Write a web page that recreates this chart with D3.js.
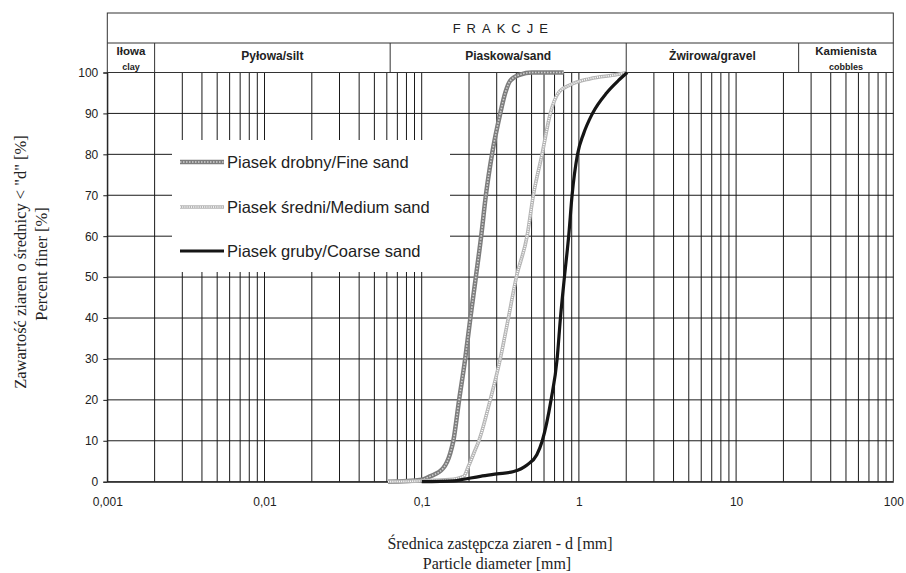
<!DOCTYPE html>
<html>
<head>
<meta charset="utf-8">
<script src="https://cdn.jsdelivr.net/npm/d3@7"></script>
<style>
  body { margin: 0; background: #fff; }
  text { font-family: "Liberation Sans", Arial, sans-serif; fill: #222; }
  .serif { font-family: "Liberation Serif", "Times New Roman", serif; }
</style>
</head>
<body>
<div id="chart"></div>
<script>
// grain size distribution curves, [diameter mm, percent finer]
var fineSand = [[0.061,0],[0.1,0.5],[0.113,1.3],[0.137,3.3],[0.152,7],[0.159,10],[0.173,20],[0.189,30],
  [0.204,40],[0.221,50],[0.239,60],[0.256,70],[0.28,80],[0.316,90],[0.34,95],[0.366,98],[0.424,99.5],[0.5,100],[0.8,100]];
var mediumSand = [[0.061,0],[0.1,0.2],[0.15,0.5],[0.185,1.3],[0.198,3.7],[0.219,7.8],[0.231,10],[0.273,20],
  [0.316,30],[0.356,40],[0.4,50],[0.468,60],[0.513,70],[0.583,80],[0.658,90],[0.74,95],[0.883,97],[1.18,98.5],[1.75,99.5],[2.03,100]];
var coarseSand = [[0.1,0],[0.16,0.2],[0.185,0.6],[0.236,1.3],[0.301,1.9],[0.385,2.5],[0.468,4.1],[0.54,6.6],
  [0.585,10],[0.665,20],[0.727,30],[0.763,40],[0.809,50],[0.861,60],[0.905,70],[0.98,80],[1.07,85],[1.22,90],[1.5,95],[1.78,98],[2.03,100]];

var seriesNames = ["Piasek drobny/Fine sand", "Piasek średni/Medium sand", "Piasek gruby/Coarse sand"];
var xTickValues = [0.001, 0.01, 0.1, 1, 10, 100];
var xTickLabels = ["0,001", "0,01", "0,1", "1", "10", "100"];
var yTickValues = [0, 10, 20, 30, 40, 50, 60, 70, 80, 90, 100];

// soil fractions in the header band
var fractionBounds = [0.001, 0.002, 0.063, 2, 25, 100];
var fractionNames = ["Iłowa", "Pyłowa/silt", "Piaskowa/sand", "Żwirowa/gravel", "Kamienista"];
var fractionSub = ["clay", "", "", "", "cobbles"];

// set the dimensions and margins of the graph
var margin = {top: 72.5, right: 12.7, bottom: 91.3, left: 107.3},
  width = 906 - margin.left - margin.right,
  height = 573 - margin.top - margin.bottom;

var svg = d3.select("#chart")
  .append("svg")
    .attr("width", 906)
    .attr("height", 573)
  .append("g")
    .attr("transform", "translate(" + margin.left + "," + margin.top + ")");

var x = d3.scaleLog().domain([0.001, 100]).range([0, width]);
var y = d3.scaleLinear().domain([0, 100]).range([height, 0]);

// grid: every 1..9 multiple of each decade
var gridX = [];
for (var e = -3; e <= 1; e++) {
  for (var k = 1; k <= 9; k++) gridX.push(k * Math.pow(10, e));
}
gridX.push(100);

svg.append("g").selectAll("line.v")
  .data(gridX).enter().append("line")
    .attr("x1", function (d) { return x(d); })
    .attr("x2", function (d) { return x(d); })
    .attr("y1", 0).attr("y2", height)
    .style("stroke", "#1a1a1a").style("stroke-width", 1);

svg.append("g").selectAll("line.h")
  .data(yTickValues).enter().append("line")
    .attr("x1", 0).attr("x2", width)
    .attr("y1", function (d) { return y(d); })
    .attr("y2", function (d) { return y(d); })
    .style("stroke", "#1a1a1a").style("stroke-width", 1);

// Y axis
var yAxis = svg.append("g")
  .call(d3.axisLeft(y).tickValues(yTickValues).tickSize(4).tickPadding(5));
yAxis.select(".domain").style("stroke", "#1a1a1a");
yAxis.selectAll("line").style("stroke", "#1a1a1a");
yAxis.selectAll("text").style("font-size", "12px").style("fill", "#222");

// X axis, labels only
var xAxis = svg.append("g")
  .attr("transform", "translate(0," + height + ")")
  .call(d3.axisBottom(x).tickValues(xTickValues).tickSize(0).tickPadding(16)
    .tickFormat(function (d, i) { return xTickLabels[i]; }));
xAxis.select(".domain").style("stroke", "#1a1a1a");
xAxis.selectAll("text").style("font-size", "12px").style("fill", "#222");

// header band
var head = svg.append("g").attr("transform", "translate(0,-59.5)");
head.append("rect")
  .attr("width", width).attr("height", 59.5)
  .style("fill", "none").style("stroke", "#333");
head.append("line")
  .attr("x1", 0).attr("x2", width).attr("y1", 30).attr("y2", 30)
  .style("stroke", "#333");
head.append("text")
  .attr("x", width / 2 + 3).attr("y", 20)
  .attr("text-anchor", "middle")
  .style("font-size", "13px").style("letter-spacing", "6px")
  .text("FRAKCJE");
head.selectAll("line.sep")
  .data(fractionBounds.slice(1, -1)).enter().append("line")
    .attr("x1", function (d) { return x(d); })
    .attr("x2", function (d) { return x(d); })
    .attr("y1", 30).attr("y2", 59.5)
    .style("stroke", "#333");
fractionNames.forEach(function (name, i) {
  var cx = (x(fractionBounds[i]) + x(fractionBounds[i + 1])) / 2;
  var small = fractionSub[i] !== "";
  head.append("text")
    .attr("x", cx).attr("y", small ? 42 : 47)
    .attr("text-anchor", "middle")
    .style("font-weight", "bold").style("font-size", small ? "11.5px" : "12px")
    .text(name);
  if (small) {
    head.append("text")
      .attr("x", cx).attr("y", 57)
      .attr("text-anchor", "middle")
      .style("font-weight", "bold").style("font-size", "9px")
      .text(fractionSub[i]);
  }
});

// curve styles
var line = d3.line()
  .x(function (d) { return x(d[0]); })
  .y(function (d) { return y(d[1]); })
  .curve(d3.curveMonotoneX);

var styles = [
  [{stroke: "#7d7d7d", w: 4.5}, {stroke: "#cfcfcf", w: 1.6, dash: "1.5,1.5"}],
  [{stroke: "#b4b4b4", w: 3.6}, {stroke: "#ffffff", w: 1.6, dash: "1,1.2"}],
  [{stroke: "#151515", w: 3.2}]
];

// legend box covers the grid
var legend = svg.append("g");
legend.append("rect")
  .attr("x", 172 - margin.left).attr("y", 140 - margin.top)
  .attr("width", 278).attr("height", 132)
  .style("fill", "#fff");

var rowsY = [162, 207, 251];
[fineSand, mediumSand, coarseSand].forEach(function (data, i) {
  styles[i].forEach(function (s) {
    svg.append("path")
      .datum(data)
      .attr("d", line)
      .style("fill", "none")
      .style("stroke", s.stroke)
      .style("stroke-width", s.w)
      .style("stroke-dasharray", s.dash || null);
    legend.append("line")
      .attr("x1", 180 - margin.left).attr("x2", 224 - margin.left)
      .attr("y1", rowsY[i] - margin.top).attr("y2", rowsY[i] - margin.top)
      .style("stroke", s.stroke)
      .style("stroke-width", s.w)
      .style("stroke-dasharray", s.dash || null);
  });
  legend.append("text")
    .attr("x", 227 - margin.left).attr("y", rowsY[i] - margin.top + 6)
    .style("font-size", "16.5px")
    .text(seriesNames[i]);
});

// axis titles
var root = d3.select("#chart svg");
root.append("text").attr("class", "serif")
  .attr("transform", "translate(26,262) rotate(-90)")
  .attr("text-anchor", "middle").style("font-size", "16.5px")
  .text("Zawartość ziaren o średnicy < \"d\" [%]");
root.append("text").attr("class", "serif")
  .attr("transform", "translate(47,264) rotate(-90)")
  .attr("text-anchor", "middle").style("font-size", "16.5px")
  .text("Percent finer [%]");
root.append("text").attr("class", "serif")
  .attr("x", 500).attr("y", 549)
  .attr("text-anchor", "middle").style("font-size", "16px")
  .text("Średnica zastępcza ziaren - d [mm]");
root.append("text").attr("class", "serif")
  .attr("x", 497).attr("y", 569)
  .attr("text-anchor", "middle").style("font-size", "16px")
  .text("Particle diameter [mm]");
</script>
</body>
</html>
